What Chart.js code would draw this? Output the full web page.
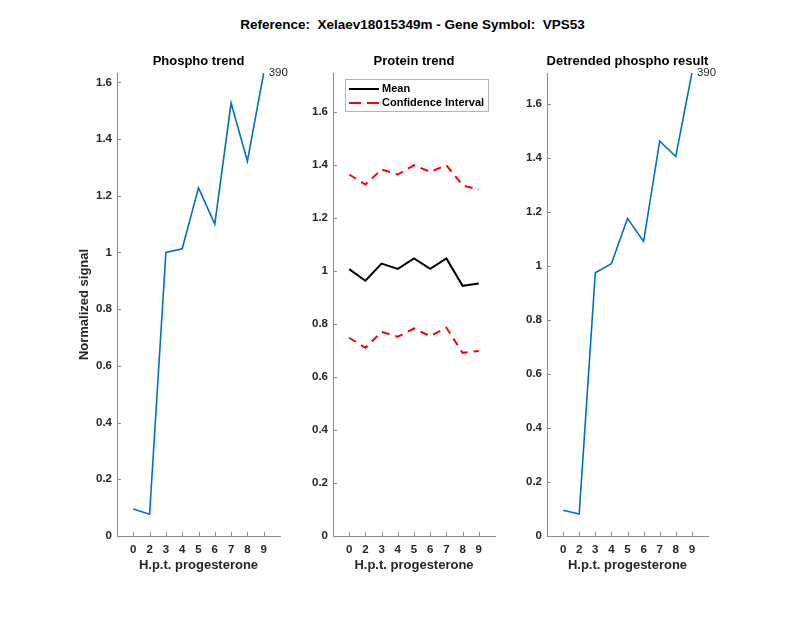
<!DOCTYPE html>
<html>
<head>
<meta charset="utf-8">
<script src="https://cdn.jsdelivr.net/npm/chart.js@4.4.1/dist/chart.umd.min.js"></script>
<style>
  body { margin: 0; background: #fff; }
  #wrap { position: relative; width: 800px; height: 618px; }
  canvas { position: absolute; left: 0; top: 0; }
  #suptitle {
    position: absolute; left: 117px; width: 591px; top: 17px;
    text-align: center; white-space: pre;
    font: bold 13.5px "Liberation Sans", Arial, sans-serif; color: #000;
  }
</style>
</head>
<body>
<div id="wrap">
  <div id="suptitle">Reference:  Xelaev18015349m - Gene Symbol:  VPS53</div>
  <canvas id="c1" width="800" height="618"></canvas>
  <canvas id="c2" width="800" height="618"></canvas>
  <canvas id="c3" width="800" height="618"></canvas>
</div>
<script>
const hours = ["0", "2", "3", "4", "5", "6", "7", "8", "9"];
const phospho = [0.095, 0.077, 1.0, 1.013, 1.228, 1.10, 1.527, 1.322, 1.633];
const proteinMean = [1.007, 0.963, 1.028, 1.008, 1.047, 1.008, 1.047, 0.944, 0.953];
const proteinUpper = [1.364, 1.326, 1.383, 1.364, 1.399, 1.374, 1.399, 1.323, 1.307];
const proteinLower = [0.748, 0.710, 0.770, 0.752, 0.783, 0.754, 0.786, 0.691, 0.698];
const detrended = [0.095, 0.081, 0.974, 1.007, 1.175, 1.090, 1.461, 1.404, 1.713];
const peptideId = "390";

const FONT = '"Liberation Sans", Arial, sans-serif';
const AXIS = "#8c8c8c";
const TXT = "#262626";

const pts = vals => vals.map((v, i) => ({ x: i, y: v }));

// titles, inward ticks, point note and legend box
const decor = {
  id: "decor",
  afterDraw(chart, args, o) {
    const { ctx, chartArea: a, scales: { x, y } } = chart;
    ctx.save();
    ctx.strokeStyle = AXIS;
    ctx.lineWidth = 1;
    ctx.beginPath();
    x.ticks.forEach(t => {
      const px = Math.round(x.getPixelForValue(t.value)) + 0.5;
      ctx.moveTo(px, a.bottom);
      ctx.lineTo(px, a.bottom - 4);
    });
    y.ticks.forEach(t => {
      const py = Math.round(y.getPixelForValue(t.value)) + 0.5;
      ctx.moveTo(a.left, py);
      ctx.lineTo(a.left + 4, py);
    });
    ctx.stroke();

    ctx.fillStyle = "#000";
    ctx.font = "bold 13px " + FONT;
    ctx.textAlign = "center";
    ctx.textBaseline = "middle";
    ctx.fillText(o.title, (a.left + a.right) / 2, a.top - 12);

    if (o.note) {
      const meta = chart.getDatasetMeta(0);
      const p = meta.data[meta.data.length - 1];
      ctx.font = "11.5px " + FONT;
      ctx.fillStyle = TXT;
      ctx.textAlign = "left";
      ctx.fillText(o.note, p.x + 5, p.y);
    }

    if (o.legend) {
      const bx = a.left + 12, by = a.top + 6, bw = 143, bh = 32;
      ctx.fillStyle = "#fff";
      ctx.fillRect(bx, by, bw, bh);
      ctx.strokeStyle = "#b4b4b4";
      ctx.strokeRect(bx + 0.5, by + 0.5, bw, bh);
      [0, 1].forEach((di, r) => {
        const ds = chart.data.datasets[di];
        const ly = by + 10 + r * 14;
        ctx.strokeStyle = ds.borderColor;
        ctx.lineWidth = ds.borderWidth;
        ctx.setLineDash(ds.borderDash ? [12, 6] : []);
        ctx.beginPath();
        ctx.moveTo(bx + 4, ly);
        ctx.lineTo(bx + 34, ly);
        ctx.stroke();
        ctx.setLineDash([]);
        ctx.fillStyle = "#000";
        ctx.font = "bold 11px " + FONT;
        ctx.textAlign = "left";
        ctx.fillText(ds.label, bx + 37, ly);
      });
    }
    ctx.restore();
  }
};

function makePanel(id, left, right, ymax, datasets, opts) {
  return new Chart(document.getElementById(id), {
    type: "line",
    data: { datasets },
    options: {
      responsive: false,
      animation: false,
      layout: { padding: { left: left - 40, right: 800 - right, top: 73, bottom: 45 } },
      elements: { point: { radius: 0 }, line: { tension: 0 } },
      plugins: { legend: { display: false }, tooltip: { enabled: false }, decor: opts },
      scales: {
        x: {
          type: "linear", min: -1, max: 9,
          afterBuildTicks: s => { s.ticks = hours.map((h, i) => ({ value: i })); },
          afterFit: s => { s.height = 37; },
          grid: { display: false, drawTicks: false },
          border: { color: AXIS, width: 1 },
          ticks: {
            autoSkip: false, maxRotation: 0, padding: 7, color: TXT,
            font: { family: FONT, size: 11.5, weight: "bold" },
            callback: v => hours[v]
          },
          title: {
            display: true, text: "H.p.t. progesterone", color: TXT, padding: 0,
            font: { family: FONT, size: 13, weight: "bold" }
          }
        },
        y: {
          min: 0, max: ymax,
          afterFit: s => { s.width = 40; },
          grid: { display: false, drawTicks: false },
          border: { color: AXIS, width: 1 },
          ticks: {
            stepSize: 0.2, includeBounds: false, padding: 5, color: TXT,
            font: { family: FONT, size: 11.5, weight: "bold" },
            callback: v => String(Math.round(v * 10) / 10)
          },
          title: {
            display: !!opts.ytitle, text: opts.ytitle || "", color: TXT, padding: 0,
            font: { family: FONT, size: 13, weight: "bold" }
          }
        }
      }
    },
    plugins: [decor]
  });
}

makePanel("c1", 117, 280, 1.633, [
  { label: "Phospho", data: pts(phospho), borderColor: "#0072BD", borderWidth: 1.6 }
], { title: "Phospho trend", note: peptideId, ytitle: "Normalized signal" });

makePanel("c2", 333, 495, 1.747, [
  { label: "Mean", data: pts(proteinMean), borderColor: "#000000", borderWidth: 2 },
  { label: "Confidence Interval", data: pts(proteinUpper), borderColor: "#FF0000", borderWidth: 2, borderDash: [8, 6] },
  { label: "Confidence Interval", data: pts(proteinLower), borderColor: "#FF0000", borderWidth: 2, borderDash: [8, 6] }
], { title: "Protein trend", legend: true });

makePanel("c3", 547, 708, 1.713, [
  { label: "Detrended", data: pts(detrended), borderColor: "#0072BD", borderWidth: 1.6 }
], { title: "Detrended phospho result", note: peptideId });
</script>
</body>
</html>
